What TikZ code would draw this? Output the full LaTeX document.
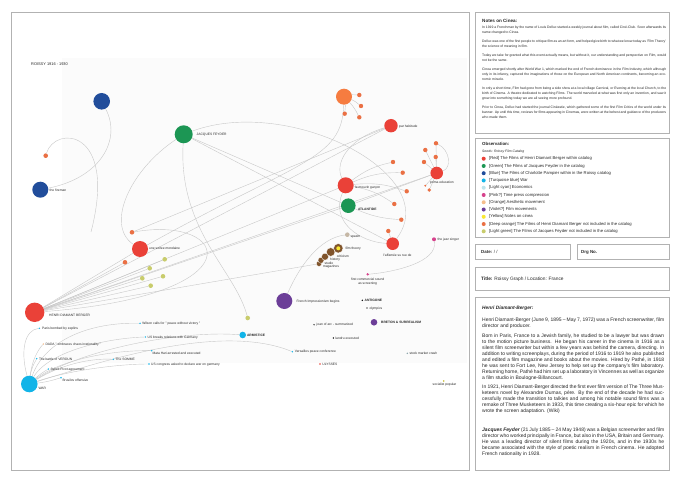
\documentclass[tikz,border=0pt]{standalone}
\usepackage{fontspec}
\setmainfont{Liberation Sans}
\definecolor{cRed}{RGB}{234,65,56}
\definecolor{cGreen}{RGB}{28,150,84}
\definecolor{cBlue}{RGB}{33,77,155}
\definecolor{cTurq}{RGB}{18,180,232}
\definecolor{cCyan}{RGB}{190,228,236}
\definecolor{cPink}{RGB}{214,66,140}
\definecolor{cLOrange}{RGB}{245,190,140}
\definecolor{cViolet}{RGB}{108,62,152}
\definecolor{cYellow}{RGB}{250,232,50}
\definecolor{cDOrange}{RGB}{234,112,68}
\definecolor{cBigOrange}{RGB}{246,124,64}
\definecolor{cLGreen}{RGB}{200,204,108}
\definecolor{cBrown}{RGB}{128,84,44}
\definecolor{cBeige}{RGB}{198,184,166}
\definecolor{cEdge}{RGB}{200,200,200}
\definecolor{cFrame}{RGB}{178,178,178}
\definecolor{cText}{RGB}{40,40,40}
\definecolor{cShade}{RGB}{251,251,251}
\pgfdeclarelayer{bg}
\pgfdeclarelayer{edgelayer}
\pgfsetlayers{bg,edgelayer,main}
\tikzset{
  nd/.style={circle,inner sep=0pt,draw=none,minimum size=#1},
  ev/.style={circle,inner sep=0pt,draw=none,minimum size=1.6pt},
  lab/.style={font=\fontsize{3.3}{3.8}\selectfont,inner sep=0pt,anchor=west,text=cText},
  edge/.style={draw=cEdge,line width=0.4pt},
  panel/.style={draw=cFrame,line width=0.8pt},
  legdot/.style={circle,inner sep=0pt,draw=none,minimum size=4pt},
  legtxt/.style={font=\fontsize{4.2}{5}\selectfont,inner sep=0pt,anchor=west,text=cText},
}
\begin{document}
\begin{tikzpicture}[x=1pt,y=-1pt]
\useasboundingbox (0,0) rectangle (680,481);
\begin{pgfonlayer}{bg}
\fill[white] (0,0) rectangle (680,481);
\fill[cShade] (62,58) rectangle (467,363);
\draw[panel] (11,12) rectangle (469,470);
\draw[panel] (475,12) rectangle (669,133);
\draw[panel] (475,138) rectangle (669,237);
\draw[panel] (475,244) rectangle (570,259);
\draw[panel] (577,244) rectangle (669,259);
\draw[panel] (475,267) rectangle (669,290);
\draw[panel] (475,297) rectangle (669,470);
\end{pgfonlayer}

% ---------- title
\node[font=\fontsize{3.9}{4.4}\selectfont,inner sep=0pt,anchor=west,text=cText] (gtitle) at (31,64) {ROISSY 1916 - 1930};

% ---------- graph nodes
\node[nd=16.6,fill=cBlue] (bA) at (101.7,101.3) {};
\node[nd=16,fill=cBlue] (fire) at (40.3,189.7) {};
\node[lab] (lfire) at (49.5,190) {the fireman};
\node[nd=18,fill=cGreen] (jf) at (183.7,134.3) {};
\node[lab] (ljf) at (196.5,134.5) {JACQUES FEYDER};
\node[nd=4.6,fill=cDOrange] (o1) at (45.7,155.7) {};
\coordinate (c1) at (91,232);

\node[nd=16,fill=cBigOrange] (bigO) at (344,96.7) {};
\node[nd=4.4,fill=cDOrange] (oa1) at (359.3,95) {};
\node[nd=4.4,fill=cDOrange] (oa2) at (361,106) {};
\node[nd=4.4,fill=cDOrange] (oa3) at (344.7,113.7) {};
\node[nd=4.4,fill=cDOrange] (oa4) at (359.3,117.3) {};

\node[nd=13.4,fill=cRed] (par) at (391,125.7) {};
\node[lab] (lpar) at (399,126.3) {par habitude};
\node[nd=12.6,fill=cRed] (prima) at (436.7,173) {};
\node[lab] (lprima) at (430,183) {prima education};
\node[nd=4.4,fill=cDOrange] (op1) at (436,143.3) {};
\node[nd=4.4,fill=cDOrange] (op2) at (425.3,150) {};
\node[nd=4.4,fill=cDOrange] (op3) at (435.7,157) {};
\node[nd=4.4,fill=cDOrange] (op4) at (424,162) {};
\node[nd=2.2,fill=cDOrange] (op5) at (425.3,185.7) {};
\node[nd=3.8,fill=cDOrange] (op6) at (429.3,190) {};

\node[nd=16,fill=cRed] (mouv) at (345.7,185.3) {};
\node[lab] (lmouv) at (355,187.5) {le mouvin garçon};
\node[nd=4.4,fill=cDOrange] (om1) at (393,162) {};
\node[nd=4.4,fill=cDOrange] (om2) at (402.7,172.7) {};
\node[nd=4.4,fill=cDOrange] (om3) at (406.7,191.3) {};
\node[nd=4.4,fill=cDOrange] (om4) at (394.3,204) {};
\node[nd=4.4,fill=cDOrange] (om5) at (401.3,219.7) {};
\node[nd=4.4,fill=cDOrange] (om6) at (388.3,231) {};

\node[nd=14.6,fill=cGreen] (atl) at (348.3,205.7) {};
\node[lab,font=\bfseries\fontsize{3.3}{3.8}\selectfont] (latl) at (357.8,209.3) {ATLANTIDE};
\node[nd=12.6,fill=cRed] (aff) at (392.7,243.7) {};
\node[lab,anchor=center] (laff) at (397.5,255.3) {l'affamée su rue de};
\node[nd=4,fill=cPink] (jazz) at (434,239.3) {};
\node[lab] (ljazz) at (437.5,239.5) {the jazz singer};
\node[nd=2.6,fill=cPink] (fcs) at (367.7,274.3) {};
\node[lab,anchor=north,align=center,font=\fontsize{3.3}{4.7}\selectfont] (lfcs) at (367.7,277.6) {first commercial sound\\as screening};

\node[nd=4.6,fill=cBeige] (spasm) at (347.3,234.7) {};
\node[lab] (lspasm) at (350.3,236.7) {spasm};
\node[nd=5.4,fill=cBrown,draw=white,line width=0.3pt] (mag) at (319,263.7) {};
\node[nd=6,fill=cBrown,draw=white,line width=0.3pt] (stud) at (321,260.3) {};
\node[nd=7,fill=cBrown,draw=white,line width=0.3pt] (hist) at (325,256.7) {};
\node[nd=8.6,fill=cBrown,draw=white,line width=0.3pt] (crit) at (330.7,252) {};
\node[nd=9.4,fill=cBrown,draw=white,line width=0.3pt] (ft) at (338.3,248.3) {};
\node[nd=4,fill=cYellow] (fty) at (338.3,248.3) {};
\node[lab] (lft) at (345.3,248.3) {film theory};
\node[lab] (lcrit) at (336.7,256.5) {criticism};
\node[lab] (lhist) at (330,259.8) {history};
\node[lab] (lstud) at (324.3,262.9) {studio};
\node[lab] (lmag) at (322.8,266.3) {magazines};

\node[nd=16,fill=cViolet] (fimp) at (284.3,301) {};
\node[lab] (lfimp) at (296.3,301.7) {French Impressionism begins};
\node[ev,fill=black] (antig) at (362.3,300.3) {};
\node[lab,font=\bfseries\fontsize{3.3}{3.8}\selectfont] (lantig) at (364.5,300.5) {ANTIGONE};
\node[ev,fill=black!60] (olym) at (367,308) {};
\node[lab] (lolym) at (369.3,308.2) {olympics};
\node[nd=6.6,fill=cViolet] (bret) at (374,322.3) {};
\node[lab,font=\bfseries\fontsize{3.3}{3.8}\selectfont] (lbret) at (381,322.5) {BRETON \& SURREALISM};
\node[nd=4.6,fill=cLGreen] (lg0) at (247.7,318) {};
\node[ev,fill=black!70] (joan) at (314,324.7) {};
\node[lab] (ljoan) at (316.5,324.9) {joan of arc - summarized};
\node[nd=6.6,fill=cTurq] (arm) at (242.7,335) {};
\node[lab,font=\bfseries\fontsize{3.3}{3.8}\selectfont] (larm) at (246.8,335.7) {ARMISTICE};
\node[ev,fill=black] (landru) at (333.3,338) {};
\node[lab] (llandru) at (335.3,338.2) {landru executed};
\node[ev,fill=cTurq] (vers) at (292.3,351.7) {};
\node[lab] (lvers) at (294.6,351.9) {Versailles peace conference};
\node[ev,fill=cRed] (uly) at (320,364) {};
\node[lab] (luly) at (322.2,364.2) {ULYSSES};
\node[ev,fill=cCyan!70!black] (stock) at (407.3,353.3) {};
\node[lab] (lstock) at (409.3,353.5) {stock market crash};
\node[ev,fill=cYellow!80!black] (soc) at (443.7,381) {};
\node[lab,anchor=center] (lsoc) at (444.5,384.5) {socialist popular};

\node[nd=16,fill=cRed] (soiree) at (140,249) {};
\node[lab] (lsoiree) at (149,248.5) {une soiree mondaine};
\node[nd=4.6,fill=cDOrange] (os1) at (132,232.3) {};
\node[nd=4.6,fill=cDOrange] (os2) at (125,262.3) {};
\node[nd=4.6,fill=cLGreen] (lg1) at (164.7,259.3) {};
\node[nd=4.6,fill=cLGreen] (lg2) at (149.7,268.3) {};
\node[nd=4.6,fill=cLGreen] (lg3) at (142.3,278.3) {};
\node[nd=4.6,fill=cLGreen] (lg4) at (163,276.3) {};
\node[nd=4.6,fill=cLGreen] (lg5) at (150.7,285.7) {};
\node[nd=19.4,fill=cRed] (hdb) at (34.7,312.3) {};
\node[lab] (lhdb) at (49,315) {HENRI DIAMANT BERGER};

\node[ev,fill=cTurq] (paris) at (39.3,328.3) {};
\node[lab] (lparis) at (42,328.5) {Paris bombed by zeplins};
\node[ev,fill=cTurq] (wilson) at (140,323.3) {};
\node[lab] (lwilson) at (142.2,323.5) {Wilson calls for " peace without victory "};
\node[ev,fill=cTurq] (usb) at (145.3,337) {};
\node[lab] (lusb) at (147.5,337.2) {US breaks relations with Germany};
\node[ev,fill=cLOrange] (dada) at (43.3,344) {};
\node[lab] (ldada) at (45.3,344.2) {DADA " embraces chaos irrationality "};
\node[ev,fill=cTurq] (verdun) at (36.7,358.7) {};
\node[lab] (lverdun) at (38.8,358.9) {The battle of VERDUN};
\node[ev,fill=cTurq] (sykes) at (48.3,369) {};
\node[lab] (lsykes) at (50.3,369.2) {Sykes Picot agreement};
\node[ev,fill=cTurq] (somme) at (113.3,359.3) {};
\node[lab] (lsomme) at (115.5,359.5) {The SOMME};
\node[ev,fill=cTurq] (mata) at (151.7,350.7) {};
\node[lab] (lmata) at (152.3,353.3) {Mata Hari arrested and executed};
\node[ev,fill=cTurq] (usc) at (149,364) {};
\node[lab] (lusc) at (151,364.2) {US congress asked to declare war on germany};
\node[ev,fill=cTurq] (brus) at (61,377.7) {};
\node[lab] (lbrus) at (62.3,380.8) {Brusilov offensive};
\node[nd=16.6,fill=cTurq] (war) at (29.3,384) {};
\node[lab] (lwar) at (38.3,388.8) {WAR};

% ---------- edges
\begin{pgfonlayer}{edgelayer}
\draw[edge] (bA) .. controls (122,140) and (100,178) .. (fire);
\draw[edge] (o1) .. controls (55,125) and (118,128) .. (c1);
\draw[edge] (jf) .. controls (130,170) and (105,225) .. (soiree);
\draw[edge] (jf) .. controls (178,230) and (235,270) .. (lg0);
\draw[edge] (jf) -- (atl);
\draw[edge] (jf) -- (aff);
\draw[edge] (jf) .. controls (290,95) and (445,175) .. (aff);
\draw[edge] (par) .. controls (345,140) and (335,165) .. (mouv);
\draw[edge] (par) -- (os1);
\draw[edge] (bigO) .. controls (342,160) and (300,160) .. (soiree);
\foreach \t in {oa1,oa2,oa3,oa4} \draw[edge] (bigO) to[bend left=8] (\t);
\foreach \t in {om1,om2,om3,om4} \draw[edge] (mouv) to[bend left=12] (\t);
\draw[edge] (atl) to[bend right=10] (om5);
\draw[edge] (aff) -- (om6);
\foreach \t in {op1,op2,op3,op4,op5,op6} \draw[edge] (prima) -- (\t);
\draw[edge] (op1) .. controls (450,150) and (452,168) .. (prima);
\draw[edge] (prima) -- (atl);
\draw[edge] (mouv) .. controls (330,222) and (360,242) .. (aff);
\foreach \t in {par,mouv,atl,prima,mag,os2,lg1,lg2,lg3,lg4,lg5,soiree} \draw[edge] (hdb) -- (\t);
\draw[edge] (hdb) .. controls (260,295) and (230,215) .. (os1);
\draw[edge] (fimp) .. controls (300,265) and (320,238) .. (spasm);
\draw[edge] (jazz) .. controls (438,262) and (395,272) .. (fcs);
\draw[edge] (war) .. controls (20,350) and (25,330) .. (paris);
\draw[edge] (war) .. controls (32,360) and (38,350) .. (dada);
\draw[edge] (war) to[bend left=10] (verdun);
\draw[edge] (war) to[bend left=5] (sykes);
\draw[edge] (war) .. controls (60,365) and (90,358) .. (somme);
\draw[edge] (war) .. controls (60,360) and (110,350) .. (mata);
\draw[edge] (war) .. controls (70,370) and (120,364) .. (usc);
\draw[edge] (war) to[bend right=5] (brus);
\draw[edge] (war) .. controls (45,340) and (90,322) .. (wilson);
\draw[edge] (war) .. controls (50,350) and (110,338) .. (usb);
\draw[edge] (war) .. controls (80,350) and (180,330) .. (arm);
\draw[edge] (war) .. controls (100,362) and (220,322) .. (vers);
\end{pgfonlayer}

% ---------- notes panel
\node[anchor=base west,font=\bfseries\fontsize{4.6}{5}\selectfont,inner sep=0pt,text=cText] (ntitle) at (482,23) {Notes on Cinea:};
\node[anchor=north west,inner sep=0pt,text width=184pt,align=justify,font=\fontsize{3.4}{5}\selectfont,text=cText] (ntext) at (482,26.2) {In 1919 a Frenchman by the name of Louis Delluc started a weekly journal about film, called Ciné-Club. Soon afterwards its name changed to Cinea.\par\vspace{3.9pt}
Delluc was one of the first people to critique film as an art form, and helped give birth to what we know today as 'Film Theory' the science of meaning in film.\par\vspace{3.9pt}
Today we take for granted what this event actually means, but without it, our understanding and perspective on Film, would not be the same.\par\vspace{3.9pt}
Cinea emerged shortly after World War 1, which marked the end of French dominance in the Film Industry, which although only in its infancy, captured the imaginations of those on the European and North American continents, becoming an economic miracle.\par\vspace{3.9pt}
In only a short time, Film had gone from being a side show at a local village Carnival, or Evening at the local Church, to the birth of Cinema. A theatre dedicated to watching Films. The world marveled at what was first only an invention, and saw it grow into something today we are all seeing more profound.\par\vspace{3.9pt}
Prior to Cinea, Delluc had started the journal Cinéastie, which gathered some of the first Film Critics of the world under its banner. Up until this time, reviews for films appearing in Cinemas, were written at the behest and guidance of the producers who made them.};

% ---------- observation panel
\node[anchor=base west,font=\bfseries\fontsize{4.4}{5}\selectfont,inner sep=0pt,text=cText] (otitle) at (482,145.6) {Observation:};
\node[anchor=base west,font=\itshape\fontsize{3.4}{4}\selectfont,inner sep=0pt,text=cText] (osub) at (482,152.6) {Seeds: Roissy Film Catalog};
\foreach \c/\t [count=\i] in {cRed/{[Red] The Films of Henri Diamant Berger within catalog},
  cGreen/{[Green] The Films of Jacques Feyder in the catalog},
  cBlue/{[Blue] The Films of Charlotte Pampier within in the Roissy catalog},
  cTurq/{[Turquoise blue] War},
  cCyan/{[Light cyan] Economics},
  cPink/{[Pink?] Time press compression},
  cLOrange/{[Orange] Aesthetic movement},
  cViolet/{[Violet?] Film movements},
  cYellow/{[Yellow] Notes on cinea},
  cDOrange/{[Deep orange] The Films of Henri Diamant Berger not included in the catalog},
  cLGreen/{[Light green] The Films of Jacques Feyder not included in the catalog}} {
  \node[legdot,fill=\c] (ld\i) at (483.7,{158.7+7.26*(\i-1)}) {};
  \node[legtxt] (lt\i) at (489,{158.7+7.26*(\i-1)}) {\t};
}

% ---------- date / drg / title
\node[anchor=base west,font=\fontsize{4.4}{5}\selectfont,inner sep=0pt,text=cText] (date) at (481,253.6) {\textbf{Date:} / /};
\node[anchor=base west,font=\bfseries\fontsize{4.4}{5}\selectfont,inner sep=0pt,text=cText] (drg) at (581,253.6) {Drg No.};
\node[anchor=base west,font=\fontsize{4.8}{5}\selectfont,inner sep=0pt,text=cText] (ttl) at (481,280.5) {\textbf{Title:} Roissy Graph / Location: France};

% ---------- biography panel
\node[anchor=base west,font=\bfseries\itshape\fontsize{4.8}{5}\selectfont,inner sep=0pt,text=cText] (btitle) at (482,309.5) {Henri Diamant-Berger:};
\node[anchor=north west,inner sep=0pt,text width=182pt,align=justify,font=\fontsize{5}{6}\selectfont,text=cText] (btext) at (482,317.8) {Henri Diamant-Berger (June 9, 1895 – May 7, 1972) was a French screenwriter, film director and producer.\par\vspace{3.6pt}
Born in Paris, France to a Jewish family, he studied to be a lawyer but was drawn to the motion picture business. He began his career in the cinema in 1916 as a silent film screenwriter but within a few years was behind the camera, directing. In addition to writing screenplays, during the period of 1916 to 1919 he also published and edited a film magazine and books about the movies. Hired by Pathé, in 1918 he was sent to Fort Lee, New Jersey to help set up the company's film laboratory. Returning home, Pathé had him set up a laboratory in Vincennes as well as organize a film studio in Boulogne-Billancourt.\par\vspace{3.6pt}
In 1921, Henri Diamant-Berger directed the first ever film version of The Three Musketeers novel by Alexandre Dumas, père. By the end of the decade he had successfully made the transition to talkies and among his notable sound films was a remake of Three Musketeers in 1933, this time creating a six-hour epic for which he wrote the screen adaptation. (Wiki)\par\vspace{12.3pt}
\textbf{\textit{Jacques Feyder}} (21 July 1885 – 24 May 1948) was a Belgian screenwriter and film director who worked principally in France, but also in the USA, Britain and Germany. He was a leading director of silent films during the 1920s, and in the 1930s he became associated with the style of poetic realism in French cinema. He adopted French nationality in 1928.};
\end{tikzpicture}
\end{document}
